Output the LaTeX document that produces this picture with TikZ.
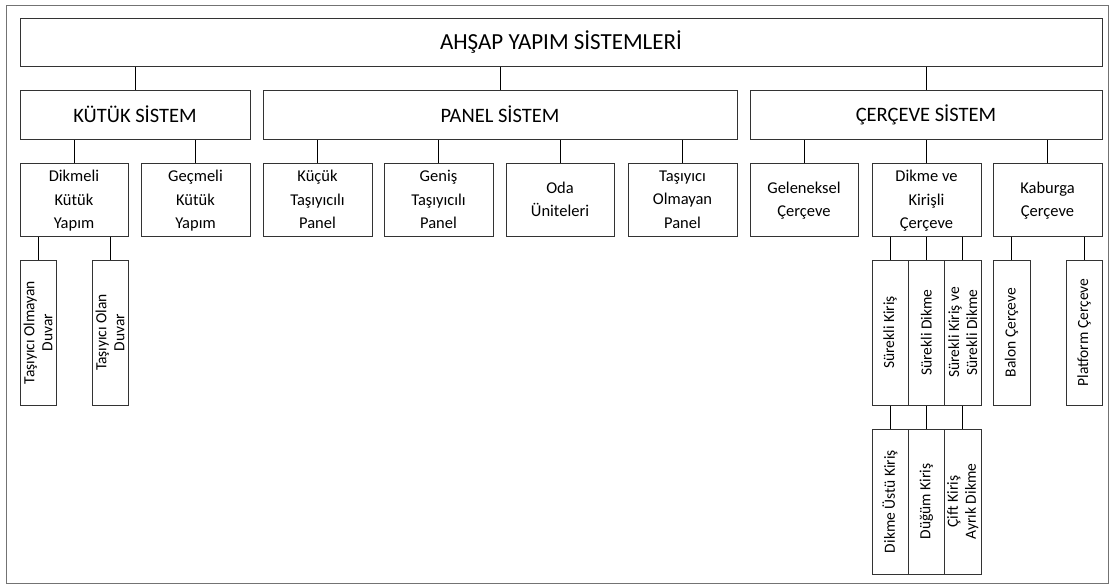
\documentclass[tikz,border=0pt]{standalone}
\usepackage{fontspec}
\setmainfont{Carlito}
\begin{document}
\begin{tikzpicture}[x=1pt,y=-1pt,
  box/.style={draw=black!80,line width=1pt,inner sep=0pt,align=center,text=black},
  lvltop/.style={box,font=\fontsize{23}{28}\selectfont},
  lvltwo/.style={box,minimum height=49pt,font=\fontsize{20.5}{24}\selectfont},
  lvlthree/.style={box,minimum height=73pt,font=\fontsize{16.5}{23.5}\selectfont,text depth=-4pt},
  vbox/.style={box,rotate=90,minimum width=145pt,font=\fontsize{15.5}{18}\selectfont},
  conn/.style={draw=black,line width=1pt}]
\useasboundingbox (0,0) rectangle (1115,587);
\draw[draw=black!55,line width=1pt] (6,5) rectangle (1108,583);
% level 1
\node[lvltop,minimum width=1082pt,minimum height=48pt] (top) at (561,42) {AHŞAP YAPIM SİSTEMLERİ};
% level 2
\node[lvltwo,minimum width=230pt] (kutuk) at (135,114.5) {KÜTÜK SİSTEM};
\node[lvltwo,minimum width=474pt] (panel) at (500,114.5) {PANEL SİSTEM};
\node[lvltwo,minimum width=352pt] (cerceve) at (926,114.5) {ÇERÇEVE SİSTEM};
% level 3
\node[lvlthree,minimum width=108pt] (dikmeli) at (74,199.5) {Dikmeli\\Kütük\\Yapım};
\node[lvlthree,minimum width=109pt] (gecmeli) at (195.5,199.5) {Geçmeli\\Kütük\\Yapım};
\node[lvlthree,minimum width=109pt] (kucuk) at (317.5,199.5) {Küçük\\Taşıyıcılı\\Panel};
\node[lvlthree,minimum width=109pt] (genis) at (438.5,199.5) {Geniş\\Taşıyıcılı\\Panel};
\node[lvlthree,minimum width=108pt] (oda) at (560,199.5) {Oda\\Üniteleri};
\node[lvlthree,minimum width=109pt] (tasiyici) at (682.5,199.5) {Taşıyıcı\\Olmayan\\Panel};
\node[lvlthree,minimum width=108pt] (geleneksel) at (804,199.5) {Geleneksel\\Çerçeve};
\node[lvlthree,minimum width=109pt] (dikme) at (926.5,199.5) {Dikme ve\\Kirişli\\Çerçeve};
\node[lvlthree,minimum width=109pt] (kaburga) at (1047.5,199.5) {Kaburga\\Çerçeve};
% level 4
\node[vbox,minimum height=36pt] (olmayan) at (38,332.5) {Taşıyıcı Olmayan\\Duvar};
\node[vbox,minimum height=36pt] (olan) at (110,332.5) {Taşıyıcı Olan\\Duvar};
\node[vbox,minimum height=36pt] (s1) at (890,332.5) {Sürekli Kiriş};
\node[vbox,minimum height=36.5pt] (s2) at (926.25,332.5) {Sürekli Dikme};
\node[vbox,minimum height=36.5pt] (s3) at (962.75,332.5) {Sürekli Kiriş ve\\Sürekli Dikme};
\node[vbox,minimum height=37pt] (balon) at (1011.5,332.5) {Balon Çerçeve};
\node[vbox,minimum height=36pt] (platform) at (1084,332.5) {Platform Çerçeve};
% level 5
\node[vbox,minimum height=36pt] (d1) at (890,501.5) {Dikme Üstü Kiriş};
\node[vbox,minimum height=36.5pt] (d2) at (926.25,501.5) {Düğüm Kiriş};
\node[vbox,minimum height=36.5pt] (d3) at (962.75,501.5) {Çift Kiriş\\Ayrık Dikme};
% connectors
\foreach \p/\c in {top/kutuk,top/panel,top/cerceve,
  kutuk/dikmeli,kutuk/gecmeli,
  panel/kucuk,panel/genis,panel/oda,panel/tasiyici,
  cerceve/geleneksel,cerceve/dikme,cerceve/kaburga}
  \draw[conn] (\c.north) -- (\c.north |- \p.south);
\foreach \p/\c in {dikmeli/olmayan,dikmeli/olan,dikme/s1,dikme/s2,dikme/s3,
  kaburga/balon,kaburga/platform}
  \draw[conn] (\c.east) -- (\c.east |- \p.south);
\foreach \p/\c in {s1/d1,s2/d2,s3/d3}
  \draw[conn] (\c.east) -- (\p.west);
\end{tikzpicture}
\end{document}
